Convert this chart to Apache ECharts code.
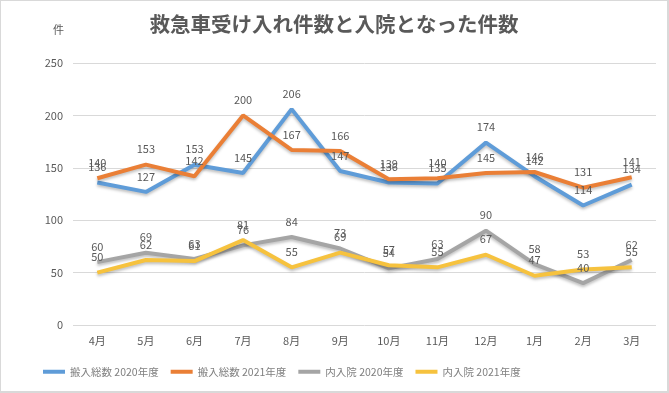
<!DOCTYPE html>
<html><head><meta charset="utf-8">
<script src="https://cdn.jsdelivr.net/npm/echarts@6/dist/echarts.min.js"></script>
<style>html,body{margin:0;padding:0;background:#fff}#c{width:666px;height:390px;border:1px solid #d9d9d9;border-right-width:2px;border-bottom-width:2px}</style>
</head><body><div id="c"></div>
<script>
const categories = ['4月','5月','6月','7月','8月','9月','10月','11月','12月','1月','2月','3月'];
const total2020 = [136,127,153,145,206,147,136,135,174,142,114,134];
const total2021 = [140,153,142,200,167,166,139,140,145,146,131,141];
const adm2020 = [60,69,63,76,84,73,54,63,90,58,40,62];
const adm2021 = [50,62,61,81,55,69,57,55,67,47,53,55];
const names = ['搬入総数 2020年度','搬入総数 2021年度','内入院 2020年度','内入院 2021年度'];
const colors = ['#5f9cd8','#ea7f36','#a5a5a5','#f6c23e'];
const font = '"Noto Sans CJK JP", "Noto Sans", sans-serif';
const chart = echarts.init(document.getElementById('c'));
const mk = (i, data) => ({
  name: names[i], type: 'line', data, symbol: 'circle', symbolSize: 0, showSymbol: true,
  lineStyle: {width: 4, color: colors[i], shadowColor: 'rgba(0,0,0,0.25)', shadowBlur: 3, shadowOffsetY: 2},
  itemStyle: {color: colors[i]},
  label: {show: true, position: 'top', color: '#595959', fontSize: 11, fontFamily: font, distance: 10},
  labelLayout: {hideOverlap: false}
});
chart.setOption({
  animation: false,
  textStyle: {fontFamily: font},
  title: {text: '救急車受け入れ件数と入院となった件数', left: 'center', top: 8,
    textStyle: {fontSize: 20.5, fontWeight: 'bold', color: '#595959', fontFamily: font}},
  legend: {bottom: 14, left: 42, padding: 0, itemWidth: 22, itemHeight: 4, itemGap: 12, icon: 'rect',
    textStyle: {color: '#808080', fontSize: 10.5, fontFamily: font}, data: names},
  grid: {left: 72, right: 11, top: 62, bottom: 66},
  xAxis: {type: 'category', data: categories, boundaryGap: true,
    axisLine: {show: false}, axisTick: {show: false},
    axisLabel: {color: '#595959', fontSize: 11, margin: 10}},
  yAxis: {type: 'value', min: 0, max: 250, interval: 50, name: '件',
    nameLocation: 'end', nameGap: 28, nameTextStyle: {color: '#595959', fontSize: 11, align: 'right', padding: [0, 9, 0, 0]},
    axisLabel: {color: '#595959', fontSize: 11, margin: 10},
    splitLine: {lineStyle: {color: '#d9d9d9'}}},
  series: [mk(0,total2020), mk(1,total2021), mk(2,adm2020), mk(3,adm2021)]
});
</script></body></html>
